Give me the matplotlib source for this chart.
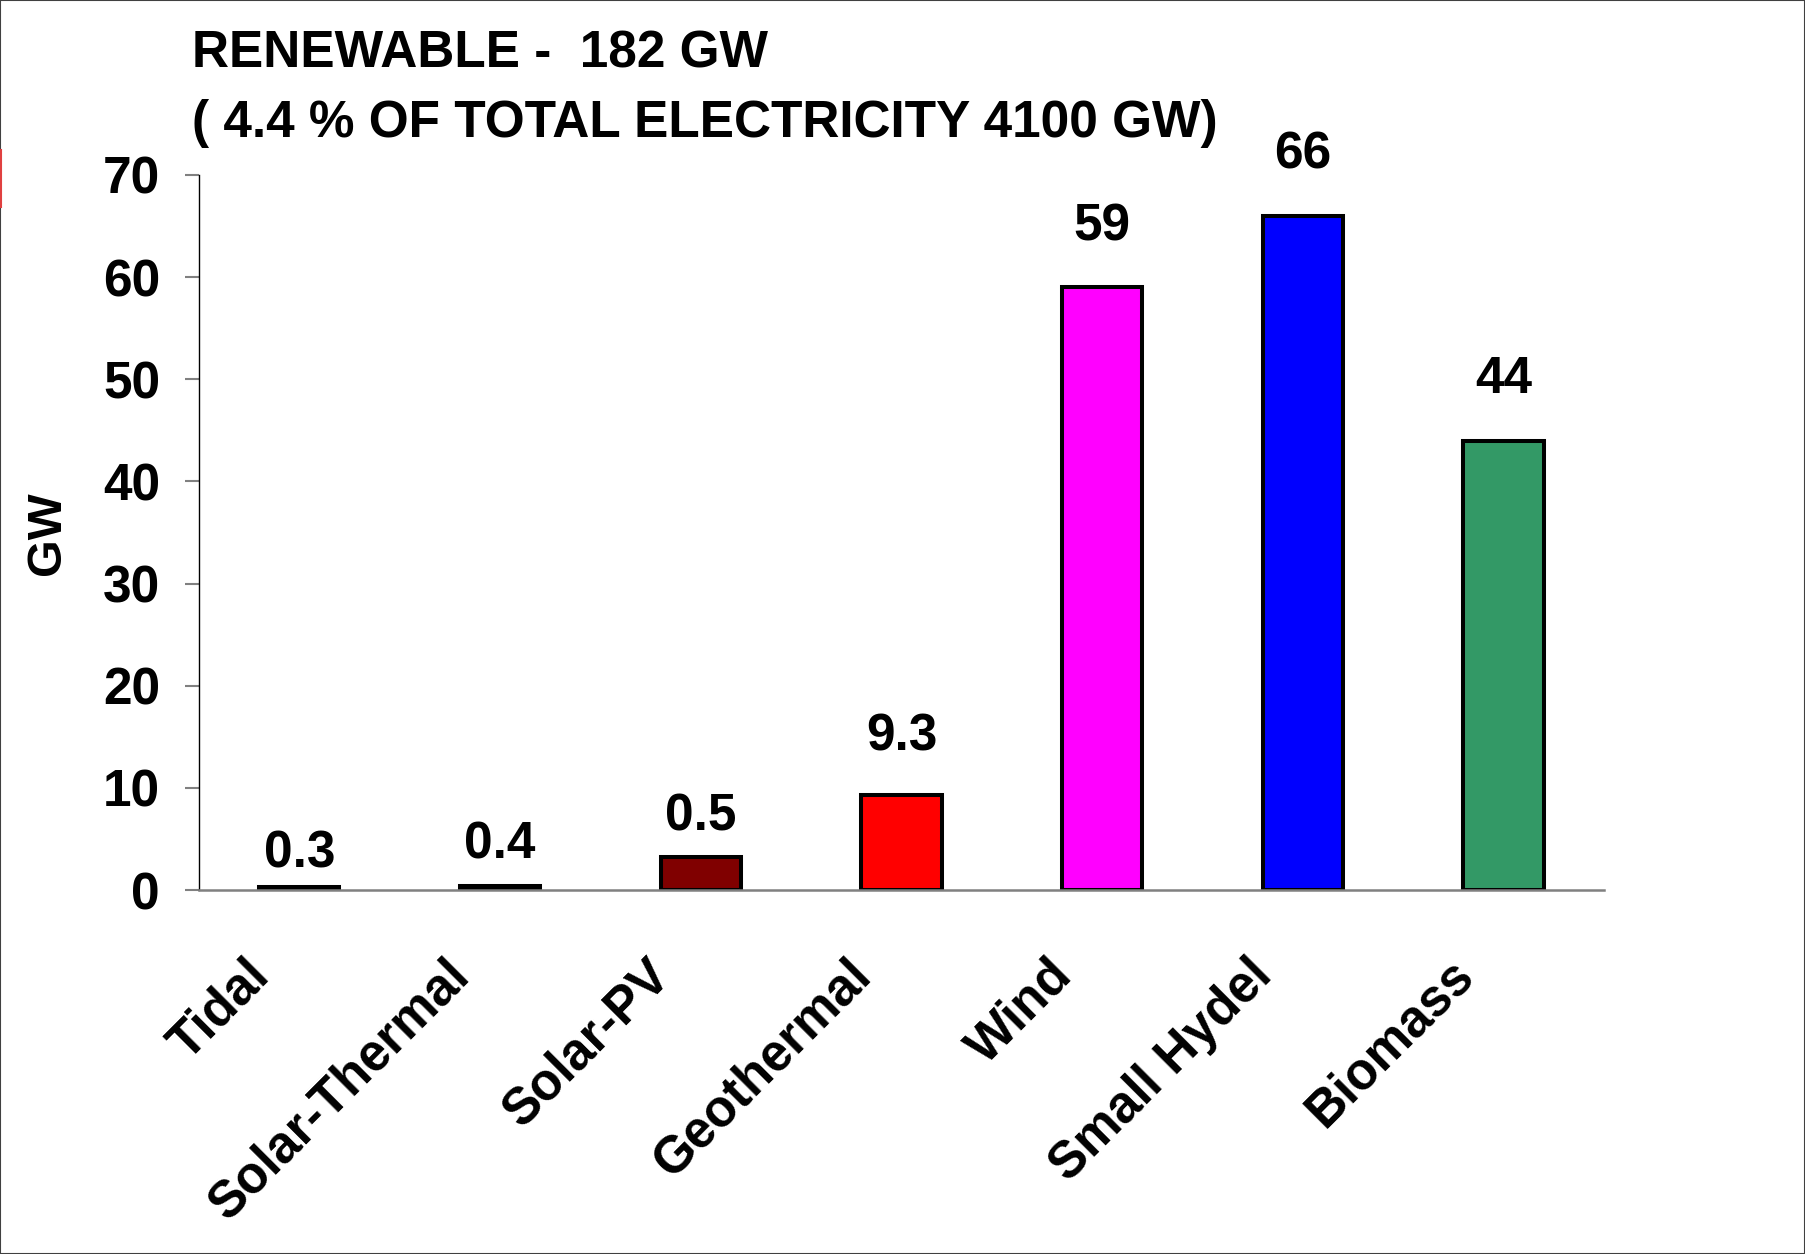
import matplotlib.pyplot as plt
from matplotlib.transforms import ScaledTranslation
from matplotlib.patches import Rectangle
from matplotlib.lines import Line2D

plt.rcParams['font.family'] = ['Liberation Sans', 'DejaVu Sans']
plt.rcParams['font.weight'] = 'bold'

# data
categories = ['Tidal', 'Solar-Thermal', 'Solar-PV', 'Geothermal', 'Wind', 'Small Hydel', 'Biomass']
values = [0.3, 0.4, 3.2, 9.3, 59, 66, 44]
value_labels = ['0.3', '0.4', '0.5', '9.3', '59', '66', '44']
bar_colors = ['black', 'black', '#800000', '#FF0000', '#FF00FF', '#0000FF', '#339966']
yticks = [0, 10, 20, 30, 40, 50, 60, 70]

# label gap above each bar (points), as placed in the original
label_gap = [14, 20, 19, 32, 34, 34, 34]

W, H = 1805, 1254
fig = plt.figure(figsize=(W / 100, H / 100), dpi=100)
ax = fig.add_axes([199 / W, 1 - 890 / H, 1405 / W, 715 / H])

x = list(range(len(categories)))
ax.bar(x, values, width=0.4, color=bar_colors, edgecolor='black', linewidth=2.9)

for xi, v, lbl, gap in zip(x, values, value_labels, label_gap):
    ax.annotate(lbl, (xi, v), xytext=(0, gap), textcoords='offset points',
                ha='center', va='baseline', fontsize=37, fontweight='bold')

ax.set_xlim(-0.5, len(categories) - 0.5)
ax.set_ylim(0, 70)
ax.set_yticks(yticks)
ax.set_yticklabels([str(t) for t in yticks], fontsize=37, fontweight='bold')
ax.tick_params(axis='y', length=10, width=1.5, color='#808080', pad=18)

ax.set_xticks(x)
ax.set_xticklabels(categories, rotation=45, ha='right', va='center',
                   rotation_mode='anchor', fontsize=37, fontweight='bold')
ax.tick_params(axis='x', length=0, pad=56)
shift = ScaledTranslation(-38 / 100, 0, fig.dpi_scale_trans)
for t in ax.get_xticklabels():
    t.set_transform(t.get_transform() + shift)

ax.spines['top'].set_visible(False)
ax.spines['right'].set_visible(False)
ax.spines['left'].set_color('black')
ax.spines['left'].set_linewidth(1.0)
ax.spines['bottom'].set_color('#808080')
ax.spines['bottom'].set_linewidth(1.8)

fig.text(47 / W, 1 - 533 / H, 'GW', rotation=90, ha='center', va='center',
         fontsize=35, fontweight='bold')
fig.text(192 / W, 1 - 67 / H, 'RENEWABLE -  182 GW', ha='left', va='baseline',
         fontsize=37, fontweight='bold')
fig.text(192 / W, 1 - 137 / H, '( 4.4 % OF TOTAL ELECTRICITY 4100 GW)', ha='left',
         va='baseline', fontsize=37, fontweight='bold')

# frame around the slide and the small red mark on the left edge
fig.patches.append(Rectangle((0, 0), 1, 1, transform=fig.transFigure, fill=False,
                             edgecolor='#404040', linewidth=1.5))
fig.lines.append(Line2D([1 / W, 1 / W], [1 - 150 / H, 1 - 207 / H],
                        transform=fig.transFigure, color='#E04040', linewidth=1.5))

fig.savefig('out.png', dpi=100)
